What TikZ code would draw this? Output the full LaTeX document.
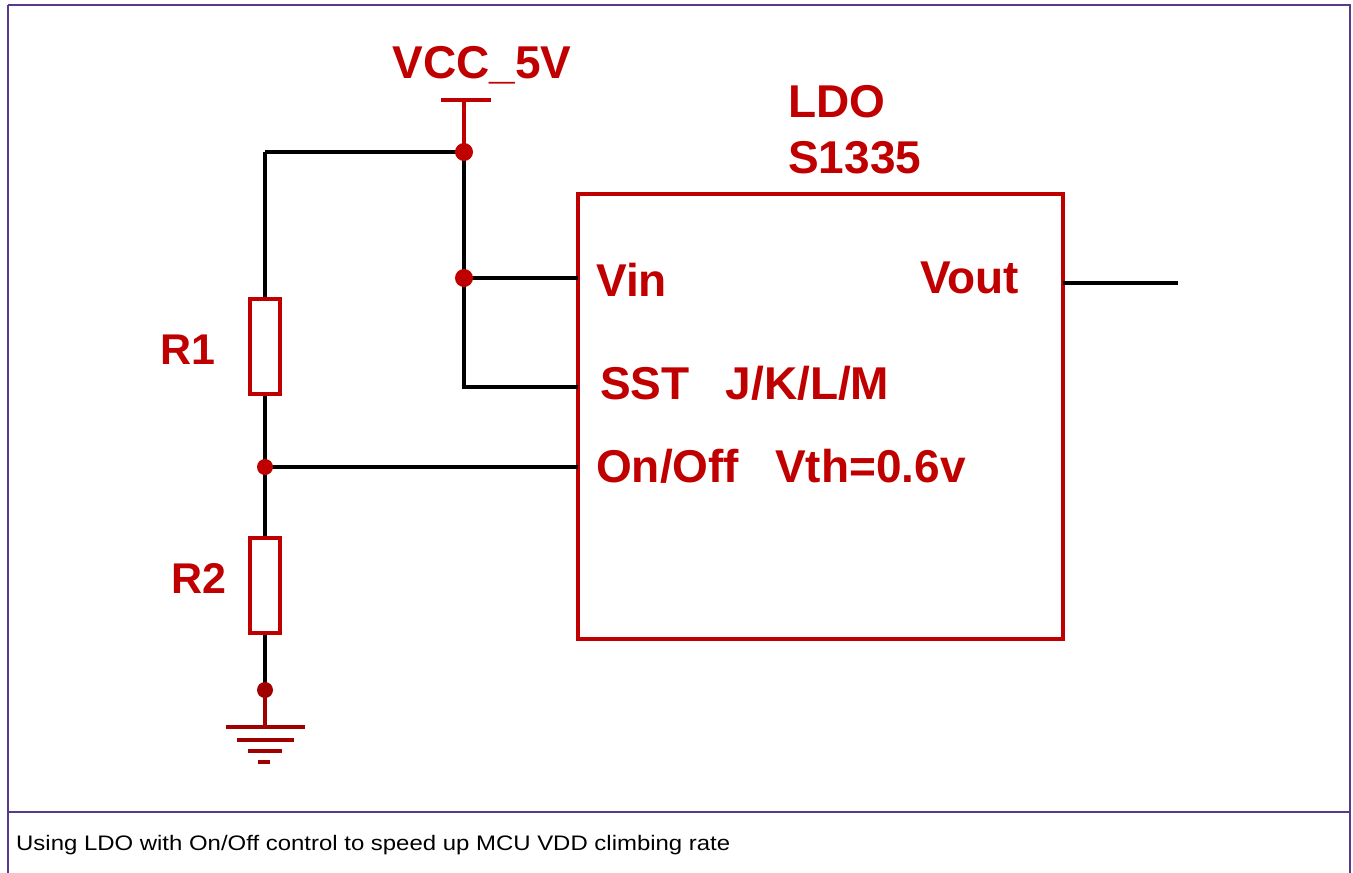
\documentclass[tikz,border=0pt]{standalone}
\usepackage{fontspec}
\setmainfont{Liberation Sans}
\definecolor{sred}{RGB}{192,0,0}
\definecolor{gred}{RGB}{160,0,0}
\definecolor{frame}{RGB}{88,58,140}
\begin{document}
\begin{tikzpicture}[x=1pt,y=-1pt,
  wire/.style={line width=4pt,black},
  rline/.style={line width=4pt,sred},
  dot/.style={circle,fill=sred,inner sep=0pt,minimum size=18pt},
  gdot/.style={circle,fill=gred,inner sep=0pt,minimum size=16pt},
  lbl/.style={text=sred,font=\fontsize{46}{52}\selectfont\bfseries,inner sep=0pt},
  rlbl/.style={text=sred,font=\fontsize{43}{50}\selectfont\bfseries,inner sep=0pt},
  res/.style={draw=sred,line width=4pt,fill=white,minimum width=30pt,minimum height=95pt,inner sep=0pt}]
\useasboundingbox (0,0) rectangle (1353,873);
% frame
\draw[frame,line width=2pt] (8,5) -- (1350,5) -- (1350,880) (8,5) -- (8,880);
\draw[frame,line width=2pt] (8,812) -- (1350,812);
\node[anchor=base west,inner sep=0pt] (cap) at (16,850) {\scalebox{1.14}[1]{\fontsize{21}{25}\selectfont Using LDO with On/Off control to speed up MCU VDD climbing rate}};
% coordinates
\coordinate (vbar) at (464,100);
\coordinate (vtop) at (464,152);
\coordinate (ltop) at (265,152);
\coordinate (vin) at (464,278);
\coordinate (sst) at (464,387);
\coordinate (onoff) at (265,467);
\coordinate (gnd) at (265,690);
\coordinate (g0) at (265,727);
% LDO box
\node[draw=sred,line width=4pt,minimum width=485pt,minimum height=445pt,inner sep=0pt] (ldo) at (820.5,416.5) {};
\coordinate (ldovin) at (578,278);
\coordinate (ldosst) at (578,387);
\coordinate (ldoon) at (578,467);
\coordinate (ldoout) at (1063,283);
\coordinate (outend) at (1178,283);
% resistors
\node[res] (r1) at (265,346.5) {};
\node[res] (r2) at (265,585.5) {};
% wires
\draw[wire] (ltop) -- (vtop) -- (sst) -- (ldosst);
\draw[wire] (vin) -- (ldovin);
\draw[wire] (ltop) -- (r1.north);
\draw[wire] (r1.south) -- (r2.north);
\draw[wire] (onoff) -- (ldoon);
\draw[wire] (r2.south) -- (gnd);
\draw[wire] (ldoout) -- (outend);
% redraw resistors on top
\node[res] at (265,346.5) {};
\node[res] at (265,585.5) {};
% vcc
\draw[rline] (441,100) -- (491,100);
\draw[rline] (vbar) -- (vtop);
\node[dot] at (vtop) {};
\node[dot] at (vin) {};
\node[dot,minimum size=16pt] at (onoff) {};
% ground
\draw[gred,line width=4pt] (gnd) -- (g0);
\node[gdot] at (gnd) {};
\draw[gred,line width=4pt] (226,727) -- (305,727);
\draw[gred,line width=4pt] (237,740) -- (294,740);
\draw[gred,line width=4pt] (248,751) -- (282,751);
\draw[gred,line width=4pt] (258,762) -- (270,762);
% labels
\node[lbl,anchor=base] (vcc) at (482,78) {VCC\_5V};
\node[lbl,anchor=base west] (l1) at (788,117) {LDO};
\node[lbl,anchor=base west] (l2) at (788,173) {S1335};
\node[lbl,anchor=base west] (tvin) at (596,296) {Vin};
\node[lbl,anchor=base east] (tvout) at (1019,293) {Vout};
\node[lbl,anchor=base west] (tsst) at (600,399) {SST\hspace{36pt}J/K/L/M};
\node[lbl,anchor=base west] (ton) at (596,482) {On/Off\hspace{36pt}Vth=0.6v};
\node[rlbl,anchor=base east] (tr1) at (216,364) {R1};
\node[rlbl,anchor=base east] (tr2) at (227,593) {R2};
\end{tikzpicture}
\end{document}
